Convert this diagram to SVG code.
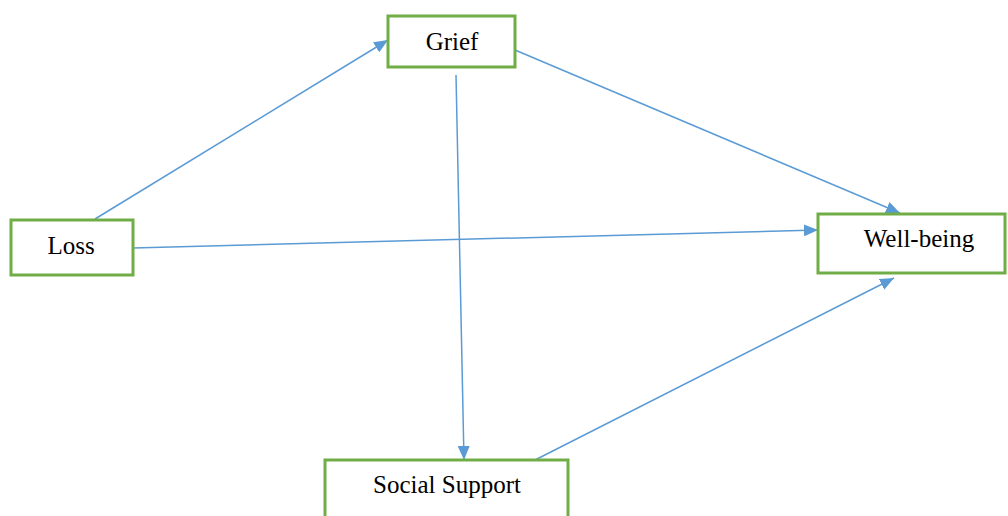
<svg xmlns="http://www.w3.org/2000/svg" width="1008" height="516" viewBox="0 0 1008 516">
<style>
.box{fill:#fff;stroke:#70ad47;stroke-width:3}
.lbl{font-family:"Liberation Serif","Times New Roman",serif;font-size:25px;fill:#000;text-anchor:middle}
.edge{stroke:#5b9bd5;stroke-width:1.5;fill:none;marker-end:url(#ah)}
</style>
<defs>
<marker id="ah" viewBox="0 0 14 12" refX="14" refY="6" markerWidth="14" markerHeight="12" markerUnits="userSpaceOnUse" orient="auto">
<path d="M0,0 L14,6 L0,12 z" fill="#5b9bd5"/>
</marker>
</defs>
<rect width="1008" height="516" fill="#fff"/>
<g id="connectors">
<line class="edge" x1="95" y1="219" x2="388" y2="40"/>
<line class="edge" x1="515" y1="50" x2="900" y2="213"/>
<line class="edge" x1="133" y1="248" x2="818" y2="230"/>
<line class="edge" x1="456" y1="75" x2="464" y2="460"/>
<line class="edge" x1="535" y1="460" x2="894" y2="278"/>
</g>
<g id="grief">
<rect class="box" x="388" y="16" width="127" height="51"/>
<text class="lbl" x="452" y="50">Grief</text>
</g>
<g id="loss">
<rect class="box" x="11" y="220" width="122" height="55"/>
<text class="lbl" x="71" y="254">Loss</text>
</g>
<g id="wellbeing">
<rect class="box" x="818" y="214" width="187" height="59"/>
<text class="lbl" x="919" y="247">Well-being</text>
</g>
<g id="social">
<rect class="box" x="325" y="460" width="243" height="70"/>
<text class="lbl" x="447" y="493">Social Support</text>
</g>
</svg>
